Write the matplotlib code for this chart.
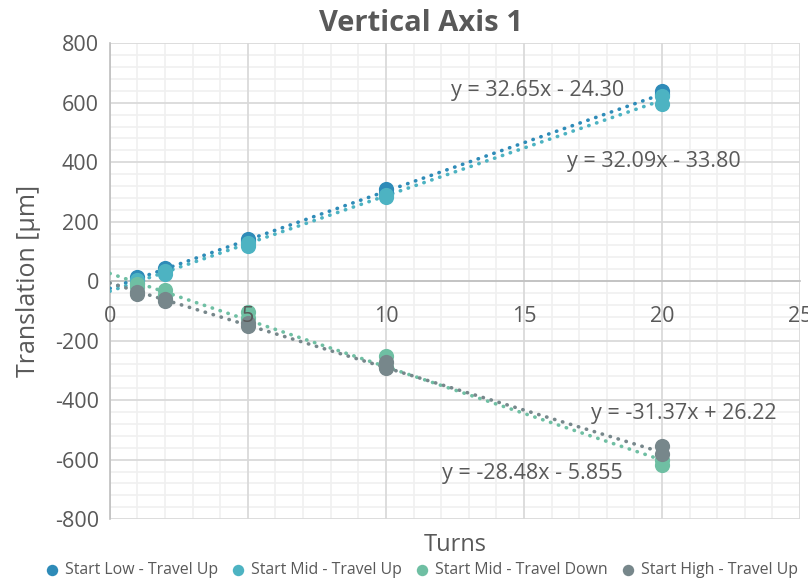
import numpy as np
import matplotlib
matplotlib.use('Agg')
from matplotlib import pyplot as plt

plt.rcParams['font.family'] = ['Open Sans', 'DejaVu Sans']
plt.rcParams['axes.unicode_minus'] = False

# repeated measurements per series
turns = [1, 1, 2, 2, 5, 5, 10, 10, 20, 20]
low_up = [5, 15, 38, 45, 135, 142, 295, 309, 628, 638]
mid_up = [-5, 5, 25, 35, 118, 128, 283, 290, 595, 622]
mid_down = [-10, -20, -30, -45, -105, -125, -250, -290, -600, -618]
high_up = [-35, -42, -60, -66, -140, -150, -272, -292, -555, -580]

series_names = ['Start Low - Travel Up', 'Start Mid - Travel Up',
				'Start Mid - Travel Down', 'Start High - Travel Up']
series_colors = ['#2e8bb8', '#4db3c2', '#6fbfa3', '#77878b']

# trendline coefficients as printed on the chart
slopes = [32.65, 32.09, -31.37, -28.48]
intercepts = [-24.30, -33.80, 26.22, -5.855]
eq_labels = ['y = 32.65x - 24.30', 'y = 32.09x - 33.80',
			 'y = -31.37x + 26.22', 'y = -28.48x - 5.855']
eq_pos = [(15.5, 640), (19.7, 403), (20.8, -445), (15.3, -648)]

x_ticks = [0, 5, 10, 15, 20, 25]
y_ticks = [-800, -600, -400, -200, 0, 200, 400, 600, 800]

text_color = '#595959'

fig = plt.figure(figsize=(8.08, 5.84), dpi=100)
ax = fig.add_axes([0.136, 0.111, 0.854, 0.815])

ax.set_xlim(0, 25)
ax.set_ylim(-800, 800)

# gridlines drawn by hand so the tick labels can sit above the markers
for gx in np.arange(0, 26, 1):
	ax.axvline(gx, color='#f0f0f0', linewidth=1.2, zorder=0.3)
for gy in np.arange(-800, 801, 40):
	ax.axhline(gy, color='#f0f0f0', linewidth=1.2, zorder=0.3)
for gx in x_ticks:
	ax.axvline(gx, color='#d9d9d9', linewidth=1.2, zorder=0.4)
for gy in y_ticks:
	ax.axhline(gy, color='#d9d9d9', linewidth=1.2, zorder=0.4)

all_data = [low_up, mid_up, mid_down, high_up]
xs = np.array([0, 20])
for vals, name, col, m, b in zip(all_data, series_names, series_colors,
								 slopes, intercepts):
	ax.plot(xs, m * xs + b, linestyle=(0, (0.1, 2.2)), dash_capstyle='round',
			linewidth=2.6, color=col, zorder=2)
for vals, name, col in zip(all_data, series_names, series_colors):
	ax.scatter(turns, vals, s=120, color=col, label=name, zorder=3,
			   linewidths=0)

for lbl, (px, py) in zip(eq_labels, eq_pos):
	ax.text(px, py, lbl, fontsize=15.5, color=text_color, ha='center',
			va='center', zorder=6)

for side in ['top', 'right']:
	ax.spines[side].set_visible(False)
ax.spines['left'].set_color('#bfbfbf')
ax.spines['left'].set_linewidth(1.2)
ax.spines['bottom'].set_position(('data', 0))
ax.spines['bottom'].set_color('#bfbfbf')
ax.spines['bottom'].set_linewidth(1.2)
ax.spines['bottom'].set_zorder(1)
ax.spines['left'].set_zorder(1)
ax.xaxis.set_zorder(5)

ax.set_xticks(x_ticks)
ax.set_yticks(y_ticks)
ax.tick_params(which='both', length=0, labelsize=15.5, labelcolor=text_color)
ax.tick_params(axis='x', pad=18)
ax.tick_params(axis='y', pad=8)

fig.text(0.521, 0.96, 'Vertical Axis 1', fontsize=21, fontweight='bold',
		 color=text_color, ha='center', va='center')
ax.set_xlabel('Turns', fontsize=17, color=text_color)
ax.xaxis.set_label_coords(0.5, -0.03)
ax.set_ylabel('Translation [µm]', fontsize=18, color=text_color)
ax.yaxis.set_label_coords(-0.1, 0.5)

ax.legend(loc='upper center', bbox_to_anchor=(0.445, -0.06), ncol=4,
		  frameon=False, fontsize=11.4, labelcolor=text_color,
		  handletextpad=-0.2, columnspacing=0.3, markerscale=0.75)

plt.savefig('out.png', dpi=100)
